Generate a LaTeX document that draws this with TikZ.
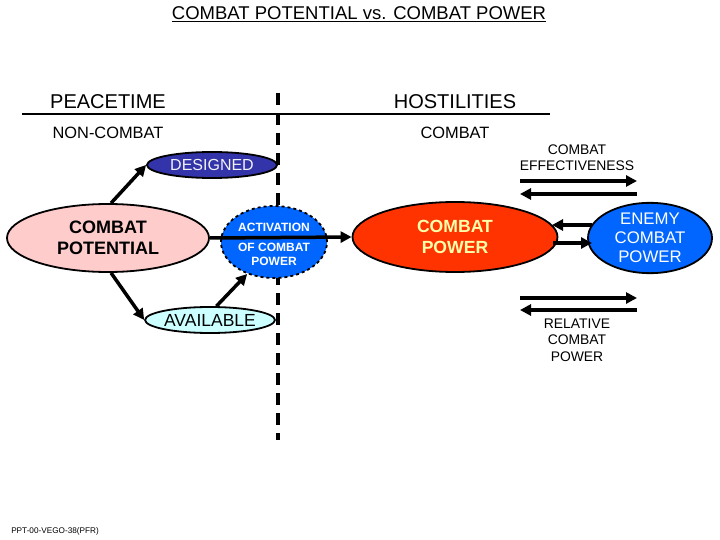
\documentclass[tikz,border=0pt]{standalone}
\usepackage{fontspec}
\setmainfont{Liberation Sans}
\usetikzlibrary{arrows.meta,shapes.geometric}
\definecolor{dblue}{RGB}{51,51,170}
\definecolor{mblue}{RGB}{0,102,255}
\definecolor{pinkf}{RGB}{255,204,204}
\definecolor{redf}{RGB}{255,51,0}
\definecolor{cyanf}{RGB}{204,255,255}
\definecolor{lyel}{RGB}{255,255,170}
\begin{document}
\begin{tikzpicture}[x=1pt,y=-1pt,
  ell/.style={ellipse,draw=black,line width=1.8pt,inner sep=0pt,align=center},
  arr/.style={line width=3.5pt,-{Triangle[length=11pt,width=11pt]}},
  lbl/.style={inner sep=0pt,align=center}]
\useasboundingbox (0,0) rectangle (720,540);
\node[lbl,font=\fontsize{18.5}{20}\selectfont] (title) at (359,14) {\underline{COMBAT POTENTIAL vs. COMBAT POWER}};
\node[lbl,font=\fontsize{20}{22}\selectfont] (peace) at (108,102) {PEACETIME};
\node[lbl,font=\fontsize{20}{22}\selectfont] (host) at (455,102) {HOSTILITIES};
\coordinate (hl) at (22,114); \coordinate (hr) at (550,114);
\draw[line width=2.5pt] (hl) -- (hr);
\coordinate (vt) at (278,93); \coordinate (vb) at (278,440);
\draw[line width=3.5pt,dash pattern=on 12pt off 8pt] (vt) -- (vb);
\node[lbl,font=\fontsize{16.4}{18}\selectfont] (nc) at (108,133) {NON-COMBAT};
\node[lbl,font=\fontsize{16.4}{18}\selectfont] (cb) at (455,133) {COMBAT};
\node[ell,fill=dblue,text=white!90!gray,minimum width=130pt,minimum height=26pt,font=\fontsize{16}{18}\selectfont] (des) at (212,165) {DESIGNED};
\node[ell,fill=pinkf,minimum width=202pt,minimum height=68pt,font=\bfseries\fontsize{18}{21}\selectfont] (pot) at (108,238) {COMBAT\\POTENTIAL};
\node[ell,fill=cyanf,minimum width=126pt,minimum height=26pt,font=\fontsize{17.5}{18}\selectfont] (avail) at (210,320) {AVAILABLE};
\node[ell,fill=mblue,dashed,minimum width=106pt,minimum height=72pt] (act) at (274,242) {};
\node[lbl,text=white,font=\bfseries\fontsize{12}{14}\selectfont] (actt) at (274,227) {ACTIVATION};
\node[lbl,text=white,font=\bfseries\fontsize{12}{14}\selectfont] (actb) at (274,254) {OF COMBAT\\POWER};
\node[ell,fill=redf,text=lyel,minimum width=205pt,minimum height=70pt,font=\bfseries\fontsize{17.6}{21}\selectfont] (cp) at (455,237) {COMBAT\\POWER};
\node[ell,fill=mblue,text=white,minimum width=124pt,minimum height=67pt,font=\fontsize{16.8}{19}\selectfont] (en) at (650,238) {ENEMY\\COMBAT\\POWER};
\draw[arr] (pot.east) -- (cp.west);
\draw[arr] (pot.85) -- (des.west);
\draw[arr] (pot.-85) -- (avail.west);
\draw[arr] (avail.65) -- (act.-130);
\coordinate (a1) at (520,181); \coordinate (a2) at (637,181);
\coordinate (b1) at (637,194); \coordinate (b2) at (520,194);
\coordinate (c1) at (520,298); \coordinate (c2) at (637,298);
\coordinate (d1) at (637,310); \coordinate (d2) at (520,310);
\draw[arr] (a1) -- (a2); \draw[arr] (b1) -- (b2);
\draw[arr] (c1) -- (c2); \draw[arr] (d1) -- (d2);
\coordinate (m1) at (592,225); \coordinate (m2) at (552,225);
\coordinate (n1) at (553,243); \coordinate (n2) at (592,243);
\draw[arr] (m1) -- (m2);
\draw[arr] (n1) -- (n2);
\node[lbl,font=\fontsize{13.9}{16}\selectfont] (eff) at (577,158) {COMBAT\\EFFECTIVENESS};
\node[lbl,font=\fontsize{13.9}{16.5}\selectfont] (rel) at (577,340) {RELATIVE\\COMBAT\\POWER};
\node[lbl,font=\fontsize{8.2}{9}\selectfont] (foot) at (55,531) {PPT-00-VEGO-38(PFR)};
\end{tikzpicture}
\end{document}
